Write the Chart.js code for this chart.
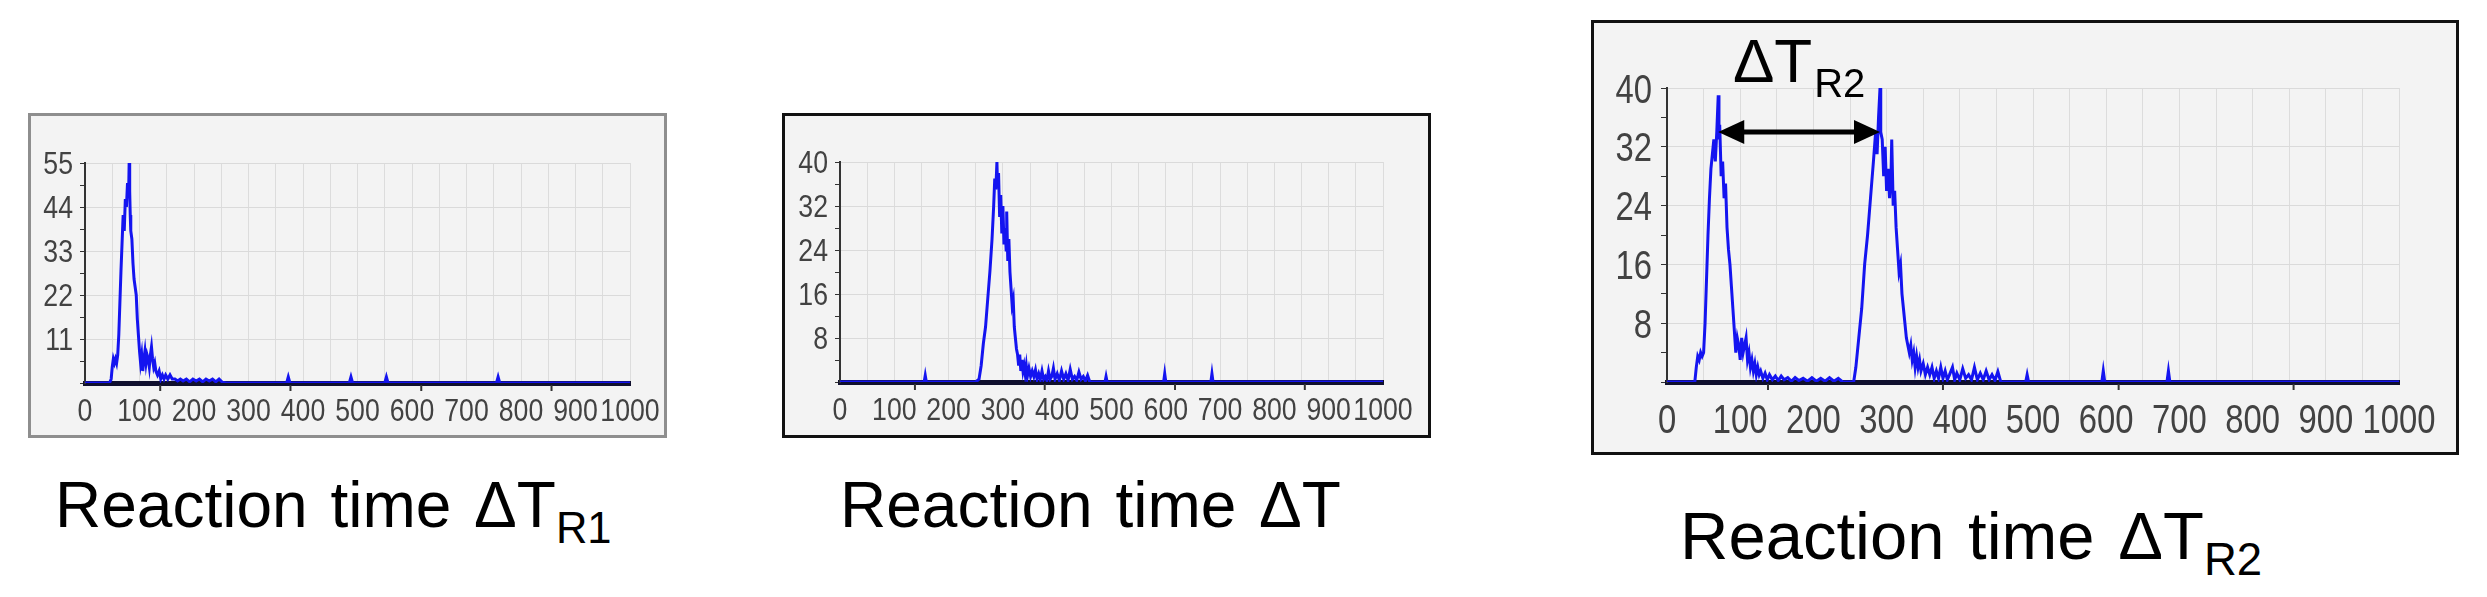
<!DOCTYPE html>
<html>
<head>
<meta charset="utf-8">
<script src="https://cdn.jsdelivr.net/npm/chart.js@4.4.1/dist/chart.umd.min.js"></script>
<style>
  html, body { margin: 0; padding: 0; background: #fff; }
  body { width: 2487px; height: 597px; position: relative; overflow: hidden; font-family: 'Liberation Sans', Arial, sans-serif; }
  .frame { position: absolute; box-sizing: border-box; background: #f3f3f3; }
  .frame canvas { display: block; }
  #f1 { left: 28px; top: 113px; width: 639px; height: 325px; border: 3px solid #8e8e8e; }
  #f2 { left: 782px; top: 113px; width: 649px; height: 325px; border: 3px solid #111; }
  #f3 { left: 1591px; top: 20px; width: 868px; height: 435px; border: 3px solid #111; }
  .caption { position: absolute; line-height: 1; color: #000; white-space: nowrap; word-spacing: 5px; }
  .caption sub { font-size: 0.68em; vertical-align: -0.36em; line-height: 1; word-spacing: 0; }
</style>
</head>
<body>
<div class="frame" id="f1"><canvas id="c1" width="633" height="319"></canvas></div>
<div class="frame" id="f2"><canvas id="c2" width="643" height="319"></canvas></div>
<div class="frame" id="f3"><canvas id="c3" width="862" height="429"></canvas></div>
<div class="caption" style="left:55px; top:473px; font-size:64px">Reaction time ΔT<sub>R1</sub></div>
<div class="caption" style="left:840px; top:473px; font-size:64px">Reaction time ΔT</div>
<div class="caption" style="left:1680px; top:502px; font-size:67px">Reaction time ΔT<sub>R2</sub></div>
<script>
// x axis labels (ms) and y axis labels per panel
const xTickLabels = [0, 100, 200, 300, 400, 500, 600, 700, 800, 900, 1000];
const r1YLabels = [11, 22, 33, 44, 55];
const r2YLabels = [8, 16, 24, 32, 40];
const r3YLabels = [8, 16, 24, 32, 40];
// stray tick marks the original plotting tool put under the x axis
const oddTickValues = [138, 377, 617, 856];

// panel 1: reaction time dT_R1
const r1Time = [0, 45, 48, 50, 52, 54, 56, 58, 60, 62, 64, 66, 68, 70, 72, 74, 76, 78, 80, 81, 82, 83, 84, 86, 88, 90,
  92, 94, 96, 98, 100, 102, 104, 106, 108, 110, 112, 114, 116, 118, 120, 122, 124, 126, 128, 130, 133, 136, 139, 142,
  145, 148, 152, 156, 160, 165, 170, 175, 180, 186, 192, 198, 204, 210, 216, 222, 228, 234, 240, 246, 252, 260, 300,
  370, 373, 376, 420, 485, 488, 491, 550, 553, 556, 755, 758, 761, 1000];
const r1Count = [0, 0, 1, 4, 6, 5, 6, 5, 7, 12, 20, 28, 35, 42, 38, 46, 44, 50, 47, 55, 48, 42, 38, 36, 30, 26,
  24, 22, 16, 12, 8, 5, 7, 3, 6, 8, 5, 7, 6, 4, 7, 9, 6, 4, 5, 3, 2, 3, 1, 2,
  1, 2, 1, 2, 1, 1, 0.5, 1, 0.5, 1, 0.3, 1, 0.5, 1, 0.3, 1, 0.5, 1, 0.3, 1, 0.2, 0, 0,
  0, 1.5, 0, 0, 0, 1.5, 0, 0, 1.5, 0, 0, 1.5, 0, 0];

// panel 2: reaction time dT
const r2Time = [0, 100, 155, 157, 159, 250, 256, 260, 264, 268, 272, 276, 280, 283, 285, 287, 289, 290, 292, 294, 296,
  298, 300, 302, 304, 306, 307, 309, 311, 313, 315, 317, 319, 321, 323, 325, 327, 329, 331, 333, 335, 337, 339, 341,
  343, 345, 348, 351, 354, 357, 360, 363, 366, 369, 372, 375, 378, 381, 384, 387, 390, 393, 396, 400, 404, 408, 412,
  416, 420, 424, 428, 432, 436, 440, 444, 448, 452, 456, 460, 488, 490, 492, 596, 598, 600, 683, 685, 687, 1000];
const r2Count = [0, 0, 0, 1.2, 0, 0, 0.5, 3, 7, 10, 15, 20, 26, 32, 37, 35, 40, 36, 38, 30, 34,
  27, 32, 25, 28, 24, 31, 22, 26, 20, 17, 14, 15, 10, 8, 6, 5, 3, 5, 2, 4, 2, 3, 1.5,
  3, 1, 2.5, 1, 2, 1, 2.2, 0.5, 1.5, 0.5, 2, 0.5, 1, 0.3, 2, 0.5, 1, 2.5, 0.5, 1.5, 0.3, 2, 0.5,
  1.5, 0.3, 2.3, 0.5, 1, 0.3, 1.8, 0.5, 1, 0.2, 1.2, 0, 0, 1, 0, 0, 1.5, 0, 0, 1.5, 0, 0];

// panel 3: reaction time dT_R2 (two responses)
const r3Time = [0, 38, 40, 42, 44, 46, 48, 50, 52, 54, 56, 58, 60, 62, 64, 66, 68, 70, 71, 72, 74, 76, 78, 80, 82,
  84, 86, 88, 90, 92, 94, 96, 98, 100, 102, 104, 106, 108, 110, 112, 114, 116, 118, 120, 122, 124, 126, 128, 131,
  134, 137, 140, 144, 148, 152, 156, 160, 165, 170, 175, 180, 186, 192, 198, 204, 210, 216, 222, 228, 234, 240, 255,
  258, 262, 266, 270, 274, 278, 282, 285, 287, 289, 291, 292, 294, 296, 298, 300, 302, 304, 306, 307, 309, 311, 313,
  315, 317, 319, 321, 323, 325, 327, 329, 331, 333, 335, 337, 339, 341, 343, 345, 347, 350, 353, 356, 359, 362, 365,
  368, 371, 374, 377, 380, 383, 386, 390, 393, 396, 400, 404, 408, 412, 416, 420, 424, 428, 432, 436, 440, 444, 448,
  452, 456, 490, 492, 494, 594, 596, 598, 683, 685, 687, 1000];
const r3Count = [0, 0, 2, 3.5, 3, 4, 3.5, 4, 8, 14, 20, 25, 29, 31, 33, 30, 34, 39, 33, 35, 28, 30, 25, 27, 21,
  18, 16, 13, 10, 7, 4, 6, 5, 3, 6, 4, 5, 6, 3, 4, 2, 3, 1.5, 2.5, 1, 2, 1, 1.5, 0.5,
  1.2, 0.3, 1, 0.3, 0.8, 0.2, 0.8, 0.3, 0.6, 0.1, 0.6, 0.2, 0.5, 0.1, 0.6, 0.1, 0.5, 0.1, 0.6, 0.1, 0.5, 0, 0,
  2, 6, 10, 16, 20, 25, 30, 34, 31, 36, 40, 34, 33, 28, 32, 26, 29, 25, 28, 33, 24, 26, 21,
  18, 15, 16, 12, 10, 8, 6, 5, 4, 5, 3, 4, 2, 3.5, 2, 3, 1.5, 2.5, 1, 2, 1, 2, 0.5,
  1.5, 0.5, 2, 0.5, 1.5, 0.3, 1, 2, 0.3, 1.2, 0.3, 1.8, 0.5, 1, 0.3, 2, 0.3, 1.2, 0.3, 1.5, 0.3, 1, 0.2,
  1.4, 0, 0, 1, 0, 0, 1.5, 0, 0, 1.5, 0, 0];

// double arrow between the two peaks of panel 3 (ms, count level)
const arrowFrom = 70;
const arrowTo = 291;
const arrowLevel = 34;

const LINE_BLUE = '#1414f0';
const LABEL_FONT = "'Liberation Sans', Arial, sans-serif";

function withMidpoints(labels) {
  const out = [];
  labels.forEach((v, i) => {
    out.push({ value: v, isMajor: true });
    if (i < labels.length - 1) out.push({ value: (v + labels[i + 1]) / 2, isMajor: false });
  });
  return out;
}

// the original tick labels are in a narrow face; draw them squeezed at the scale positions
const narrowLabels = {
  id: 'narrowLabels',
  afterDraw(chart, args, o) {
    const { ctx, chartArea, scales: { x, y } } = chart;
    const lift = 0.358 * o.size;
    ctx.save();
    ctx.fillStyle = '#424242';
    ctx.font = `${o.size}px ${LABEL_FONT}`;
    ctx.textBaseline = 'alphabetic';
    xTickLabels.forEach(v => {
      ctx.save();
      ctx.translate(x.getPixelForValue(v), chartArea.bottom + o.xGap + lift);
      ctx.scale(o.squeeze, 1);
      ctx.textAlign = 'center';
      ctx.fillText(String(v), 0, 0);
      ctx.restore();
    });
    o.yLabels.forEach(v => {
      ctx.save();
      ctx.translate(chartArea.left - o.yGap, y.getPixelForValue(v) + lift);
      ctx.scale(o.squeeze, 1);
      ctx.textAlign = 'right';
      ctx.fillText(String(v), 0, 0);
      ctx.restore();
    });
    ctx.restore();
  }
};

const oddTicks = {
  id: 'oddTicks',
  afterDraw(chart) {
    const { ctx, chartArea, scales: { x } } = chart;
    ctx.save();
    ctx.strokeStyle = '#333';
    ctx.lineWidth = 2;
    oddTickValues.forEach(v => {
      const px = x.getPixelForValue(v);
      ctx.beginPath();
      ctx.moveTo(px, chartArea.bottom + 2);
      ctx.lineTo(px, chartArea.bottom + 8);
      ctx.stroke();
    });
    ctx.restore();
  }
};

const spanArrow = {
  id: 'spanArrow',
  afterDatasetsDraw(chart) {
    const { ctx, scales: { x, y } } = chart;
    const x1 = x.getPixelForValue(arrowFrom);
    const x2 = x.getPixelForValue(arrowTo);
    const ay = y.getPixelForValue(arrowLevel);
    const head = 26, half = 12;
    ctx.save();
    ctx.fillStyle = '#000';
    ctx.strokeStyle = '#000';
    ctx.lineWidth = 5;
    ctx.beginPath();
    ctx.moveTo(x1 + head - 2, ay);
    ctx.lineTo(x2 - head + 2, ay);
    ctx.stroke();
    ctx.beginPath();
    ctx.moveTo(x1, ay);
    ctx.lineTo(x1 + head, ay - half);
    ctx.lineTo(x1 + head, ay + half);
    ctx.closePath();
    ctx.fill();
    ctx.beginPath();
    ctx.moveTo(x2, ay);
    ctx.lineTo(x2 - head, ay - half);
    ctx.lineTo(x2 - head, ay + half);
    ctx.closePath();
    ctx.fill();

    // label "ΔT_R2" above the arrow
    const tx = x.getPixelForValue(90);
    const ty = y.getPixelForValue(40) - 6;
    ctx.textBaseline = 'alphabetic';
    ctx.textAlign = 'left';
    ctx.font = `62px ${LABEL_FONT}`;
    ctx.fillText('ΔT', tx, ty);
    const w = ctx.measureText('ΔT').width;
    ctx.font = `40px ${LABEL_FONT}`;
    ctx.fillText('R2', tx + w + 2, ty + 15);
    ctx.restore();
  }
};

function makeChart(id, times, counts, yLabels, yMax, box, labelOpts, extraPlugins) {
  const points = times.map((t, i) => ({ x: t, y: counts[i] }));
  return new Chart(document.getElementById(id), {
    type: 'line',
    data: {
      datasets: [{
        data: points,
        borderColor: LINE_BLUE,
        borderWidth: 3,
        pointRadius: 0,
        tension: 0,
        fill: false
      }]
    },
    options: {
      responsive: false,
      animation: false,
      devicePixelRatio: 1,
      events: [],
      layout: { padding: { left: 0, top: box.top, right: box.right, bottom: 0 } },
      plugins: {
        legend: { display: false },
        tooltip: { enabled: false },
        narrowLabels: Object.assign({ yLabels }, labelOpts)
      },
      scales: {
        x: {
          type: 'linear',
          min: 0,
          max: 1000,
          afterBuildTicks: s => { s.ticks = withMidpoints(xTickLabels); },
          afterFit: s => { s.height = box.bottom; },
          border: { color: '#10102e', width: 5 },
          grid: { color: '#dcdcdc', lineWidth: 1, drawTicks: false },
          ticks: { display: false }
        },
        y: {
          min: 0,
          max: yMax,
          afterBuildTicks: s => { s.ticks = withMidpoints([0, ...yLabels]); },
          afterFit: s => { s.width = box.left; },
          border: { color: '#333', width: 2 },
          grid: {
            color: c => (c.tick && c.tick.isMajor && c.tick.value > 0 ? '#dadada' : 'rgba(0,0,0,0)'),
            tickColor: '#333',
            tickLength: box.tickLen,
            lineWidth: 1
          },
          ticks: { display: false }
        }
      }
    },
    plugins: [oddTicks, narrowLabels, ...extraPlugins]
  });
}

makeChart('c1', r1Time, r1Count, r1YLabels, 55,
  { left: 54, top: 47, right: 34, bottom: 52, tickLen: 5 },
  { size: 31, squeeze: 0.86, xGap: 27, yGap: 12 }, []);
makeChart('c2', r2Time, r2Count, r2YLabels, 40,
  { left: 55, top: 46, right: 45, bottom: 53, tickLen: 5 },
  { size: 31, squeeze: 0.86, xGap: 27, yGap: 12 }, []);
makeChart('c3', r3Time, r3Count, r3YLabels, 40,
  { left: 73, top: 65, right: 57, bottom: 70, tickLen: 6 },
  { size: 41, squeeze: 0.8, xGap: 36, yGap: 15 }, [spanArrow]);
</script>
</body>
</html>
